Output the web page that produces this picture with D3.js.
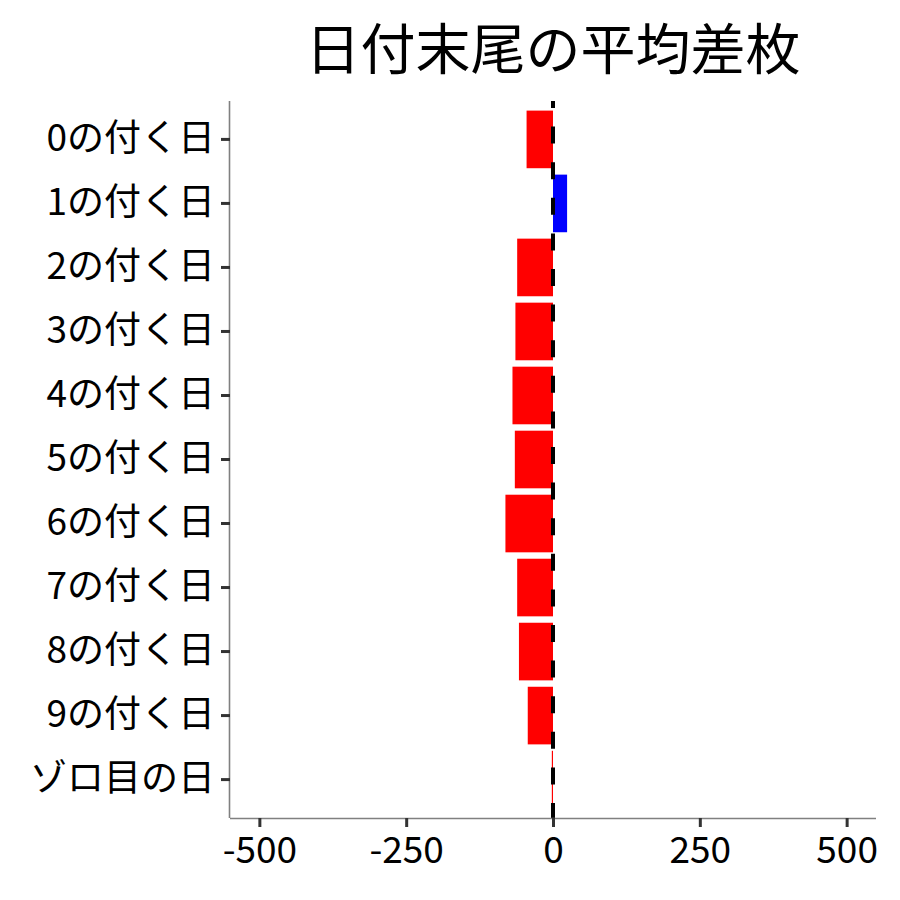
<!DOCTYPE html>
<html>
<head>
<meta charset="utf-8">
<script src="https://cdn.jsdelivr.net/npm/d3@7"></script>
<style>
  body { margin: 0; background: #fff; }
  svg text { font-family: "Noto Sans CJK JP", "Noto Sans", sans-serif; }
</style>
</head>
<body>
<svg id="chart" width="900" height="900"></svg>
<script>
const title = "日付末尾の平均差枚"
const categories = ["0の付く日", "1の付く日", "2の付く日", "3の付く日", "4の付く日",
  "5の付く日", "6の付く日", "7の付く日", "8の付く日", "9の付く日", "ゾロ目の日"]
const values = [-45, 24, -61, -64, -69, -65, -81, -61, -58, -43, -2]
const xTicks = [-500, -250, 0, 250, 500]

const svg = d3.select("#chart")
const margin = {top: 101, right: 24, bottom: 82, left: 230}
const width = 900, height = 900

// ggplot style: limits -500..500 with 5% expansion
const xScale = d3.scaleLinear()
  .domain([-550, 550])
  .range([margin.left, width - margin.right])

// 0.6 step of room at both ends, like a discrete ggplot axis
const yScale = d3.scaleBand()
  .domain(categories)
  .range([margin.top, height - margin.bottom])
  .paddingInner(0.1)
  .paddingOuter(0.15)

svg.selectAll(".bar")
  .data(values)
  .enter()
  .append("rect")
  .attr("class", "bar")
  .attr("x", d => xScale(Math.min(0, d)))
  .attr("y", (d, i) => yScale(categories[i]))
  .attr("width", d => Math.max(1, Math.abs(xScale(d) - xScale(0))))
  .attr("height", yScale.bandwidth())
  .attr("fill", d => d < 0 ? "#ff0000" : "#0000ff")

// dashed zero line
svg.append("line")
  .attr("x1", xScale(0)).attr("x2", xScale(0))
  .attr("y1", margin.top).attr("y2", height - margin.bottom)
  .attr("stroke", "#000")
  .attr("stroke-width", 4)
  .attr("stroke-dasharray", "17,18.6")
  .attr("stroke-dashoffset", 10)

const xAxis = svg.append("g")
  .attr("transform", `translate(0, ${height - margin.bottom})`)
  .call(d3.axisBottom(xScale).tickValues(xTicks).tickSize(9).tickPadding(10).tickFormat(d => String(d)))

const yAxis = svg.append("g")
  .attr("transform", `translate(${margin.left}, 0)`)
  .call(d3.axisLeft(yScale).tickSize(9).tickPadding(6))

for (const ax of [xAxis, yAxis]) {
  ax.select(".domain").attr("stroke", "#808080").attr("stroke-width", 1.6)
  ax.selectAll(".tick line").attr("stroke", "#333").attr("stroke-width", 3)
  ax.selectAll(".tick text").attr("fill", "#000").style("font-size", "37px")
}
// remove the outer tick caps of the domain path
xAxis.select(".domain").attr("d", `M${margin.left},0.5H${width - margin.right}`)
yAxis.select(".domain").attr("d", `M-0.5,${margin.top}V${height - margin.bottom}`)

svg.append("text")
  .attr("x", (margin.left + width - margin.right) / 2)
  .attr("y", 69)
  .attr("text-anchor", "middle")
  .style("font-size", "55px")
  .attr("fill", "#000")
  .text(title)
</script>
</body>
</html>
